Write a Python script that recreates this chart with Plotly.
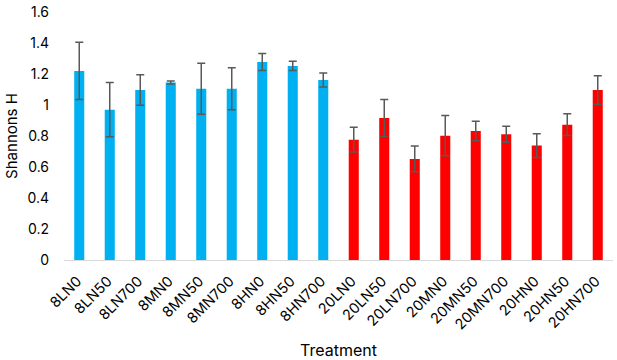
import plotly.graph_objects as go

categories = ["8LN0", "8LN50", "8LN700", "8MN0", "8MN50", "8MN700", "8HN0", "8HN50", "8HN700",
              "20LN0", "20LN50", "20LN700", "20MN0", "20MN50", "20MN700", "20HN0", "20HN50", "20HN700"]
values = [1.22, 0.97, 1.097, 1.145, 1.105, 1.105, 1.277, 1.252, 1.161,
          0.776, 0.916, 0.652, 0.802, 0.832, 0.811, 0.738, 0.873, 1.097]
errors = [0.185, 0.175, 0.098, 0.01, 0.165, 0.135, 0.055, 0.03, 0.045,
          0.08, 0.12, 0.083, 0.13, 0.063, 0.052, 0.077, 0.07, 0.092]
colors = ["#00B0F0"] * 9 + ["#FF0000"] * 9

fig = go.Figure(go.Bar(
    x=categories, y=values,
    marker=dict(color=colors, line=dict(width=0)),
    error_y=dict(type="data", array=errors, visible=True, color="#595959", thickness=1.5, width=4),
    width=0.33,
))

font = "Inter, Liberation Sans, sans-serif"
fig.update_layout(
    width=617, height=360,
    margin=dict(l=64, r=4, t=12, b=100, autoexpand=False),
    paper_bgcolor="white", plot_bgcolor="white",
    showlegend=False,
    font=dict(family=font, size=13, color="#000000"),
    xaxis=dict(
        automargin=False,
        tickangle=-45, showgrid=False, showline=True, linecolor="#D9D9D9", linewidth=1,
        ticks="", tickfont=dict(size=14.5), ticklabeloverflow="allow",
        ticklabelstandoff=6, ticklabelshift=-2,
        title=dict(text="Treatment", font=dict(size=16), standoff=28),
    ),
    yaxis=dict(
        automargin=False,
        range=[0, 1.6], showgrid=False, zeroline=False, showline=False,
        tickvals=[0, 0.2, 0.4, 0.6, 0.8, 1, 1.2, 1.4, 1.6],
        ticktext=["0", "0.2", "0.4", "0.6", "0.8", "1", "1.2", "1.4", "1.6"],
        tickfont=dict(size=14), ticks="", ticklabelstandoff=14, ticklabeloverflow="allow",
        title=dict(text="Shannons H", font=dict(size=15), standoff=6),
    ),
)

fig.write_html("out.html", config={"displayModeBar": False},
               post_script="document.body.style.margin='0';")
